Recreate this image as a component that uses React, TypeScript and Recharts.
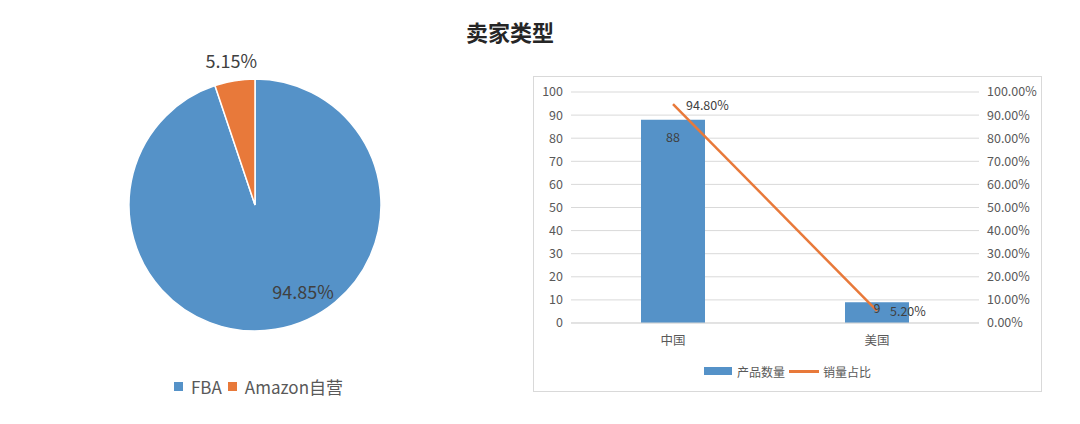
import React from 'react';
import {
  PieChart, Pie, Cell, Legend,
  ComposedChart, Bar, Line, XAxis, YAxis, CartesianGrid, LabelList
} from 'recharts';

// --- Data ---
const sellerTypes = ['FBA', 'Amazon自营'];
const sellerShares = [94.85, 5.15];

const countries = ['中国', '美国'];
const productCounts = [88, 9];
const salesShares = [0.948, 0.052];

const countTicks = [0, 10, 20, 30, 40, 50, 60, 70, 80, 90, 100];
const shareTicks = [0, 0.1, 0.2, 0.3, 0.4, 0.5, 0.6, 0.7, 0.8, 0.9, 1];

const FONT = '"Noto Sans CJK SC", "Noto Sans", sans-serif';
const BLUE = '#5592C8';
const ORANGE = '#E8793A';
const PIE_COLORS = [BLUE, ORANGE];
const RADIAN = Math.PI / 180;

const pieData = sellerTypes.map((name, i) => ({ name, value: sellerShares[i] }));
const barData = countries.map((name, i) => ({ name, count: productCounts[i], share: salesShares[i] }));

// --- Pie labels (one inside, one outside like the Excel original) ---
const renderPieLabel = (props: any) => {
  const { cx, cy, midAngle, outerRadius, index, value } = props;
  const inside = index === 0;
  const angle = inside ? midAngle + 20 : midAngle;
  const r = inside ? outerRadius * 0.78 : outerRadius + 21;
  const x = cx + r * Math.cos(-angle * RADIAN);
  const y = cy + r * Math.sin(-angle * RADIAN);
  return (
    <text x={x} y={y} textAnchor="middle" dominantBaseline="central" fill="#404040" fontSize={18} fontFamily={FONT}>
      {`${Number(value).toFixed(2)}%`}
    </text>
  );
};

// legend follows data order (FBA first)
const PieLegend = () => (
  <div style={{ display: 'flex', justifyContent: 'center', alignItems: 'center', paddingLeft: 7, fontFamily: FONT, fontSize: 17, color: '#595959' }}>
    {pieData.map((p, i) => (
      <span key={i} style={{ display: 'flex', alignItems: 'center', marginRight: i === 0 ? 6 : 0 }}>
        <span style={{ display: 'inline-block', width: 9, height: 9, background: PIE_COLORS[i], marginRight: 8 }} />
        {p.name}
      </span>
    ))}
  </div>
);

const ComboLegend = () => (
  <div style={{ height: 40, paddingTop: 6, boxSizing: 'border-box', display: 'flex', justifyContent: 'center', alignItems: 'center', fontFamily: FONT, fontSize: 12, color: '#595959' }}>
    <span style={{ display: 'inline-block', width: 28, height: 8, background: BLUE, marginRight: 5 }} />
    <span style={{ marginRight: 4 }}>产品数量</span>
    <span style={{ display: 'inline-block', width: 30, height: 3, background: ORANGE, marginRight: 4 }} />
    <span>销量占比</span>
  </div>
);

const renderBarLabel = (props: any) => {
  const { x, y, width, height, value } = props;
  return (
    <text x={x + width / 2} y={y + Math.min(17, height / 4)} textAnchor="middle" dominantBaseline="central" fill="#404040" fontSize={12.5} fontFamily={FONT}>
      {value}
    </text>
  );
};

const renderLineLabel = (props: any) => {
  const { x, y, value } = props;
  return (
    <text x={x + 13} y={y} textAnchor="start" dominantBaseline="central" fill="#404040" fontSize={12.5} fontFamily={FONT}>
      {`${(value * 100).toFixed(2)}%`}
    </text>
  );
};

const tickStyle = { fill: '#595959', fontSize: 12.5, fontFamily: FONT };

export default function App() {
  return (
    <div style={{ position: 'absolute', left: 0, top: 0, width: 1080, height: 424, background: '#fff', fontFamily: FONT }}>
      <div style={{ position: 'absolute', left: 0, top: 15, width: 1020, textAlign: 'center', fontSize: 22, fontWeight: 'bold', color: '#262626' }}>
        卖家类型
      </div>

      {/* Pie: seller type */}
      <div style={{ position: 'absolute', left: 0, top: 0 }}>
        <PieChart width={510} height={424}>
          <Pie
            data={pieData}
            dataKey="value"
            nameKey="name"
            cx={250}
            cy={200}
            outerRadius={126}
            startAngle={90}
            endAngle={-270}
            stroke="#fff"
            strokeWidth={1.5}
            label={renderPieLabel}
            labelLine={false}
            isAnimationActive={false}
          >
            {pieData.map((entry, index) => (
              <Cell key={`cell-${index}`} fill={PIE_COLORS[index % PIE_COLORS.length]} />
            ))}
          </Pie>
          <Legend content={PieLegend} wrapperStyle={{ top: 374, left: 0, width: 510 }} />
        </PieChart>
      </div>

      {/* Combo: product count vs sales share */}
      <div style={{ position: 'absolute', left: 533, top: 76, width: 509, height: 316, border: '1px solid #d9d9d9', boxSizing: 'border-box' }} />
      <div style={{ position: 'absolute', left: 533, top: 76 }}>
        <ComposedChart width={509} height={316} data={barData} margin={{ top: 16, right: 8, left: 8, bottom: 4 }}>
          <CartesianGrid yAxisId="left" vertical={false} stroke="#d9d9d9" />
          <XAxis dataKey="name" height={25} axisLine={{ stroke: '#d9d9d9' }} tickLine={false} tick={tickStyle} tickMargin={7} />
          <YAxis yAxisId="left" width={30} domain={[0, 100]} ticks={countTicks} axisLine={false} tickLine={false} tick={tickStyle} interval={0} />
          <YAxis
            yAxisId="right"
            orientation="right"
            width={55}
            domain={[0, 1]}
            ticks={shareTicks}
            axisLine={false}
            tickLine={false}
            tick={tickStyle}
            interval={0}
            tickFormatter={(v: number) => `${(v * 100).toFixed(2)}%`}
          />
          <Bar yAxisId="left" dataKey="count" fill={BLUE} barSize={64} isAnimationActive={false}>
            <LabelList dataKey="count" content={renderBarLabel} />
          </Bar>
          <Line yAxisId="right" type="linear" dataKey="share" stroke={ORANGE} strokeWidth={2.5} dot={false} isAnimationActive={false}>
            <LabelList dataKey="share" content={renderLineLabel} />
          </Line>
          <Legend verticalAlign="bottom" height={40} content={ComboLegend} />
        </ComposedChart>
      </div>
    </div>
  );
}
